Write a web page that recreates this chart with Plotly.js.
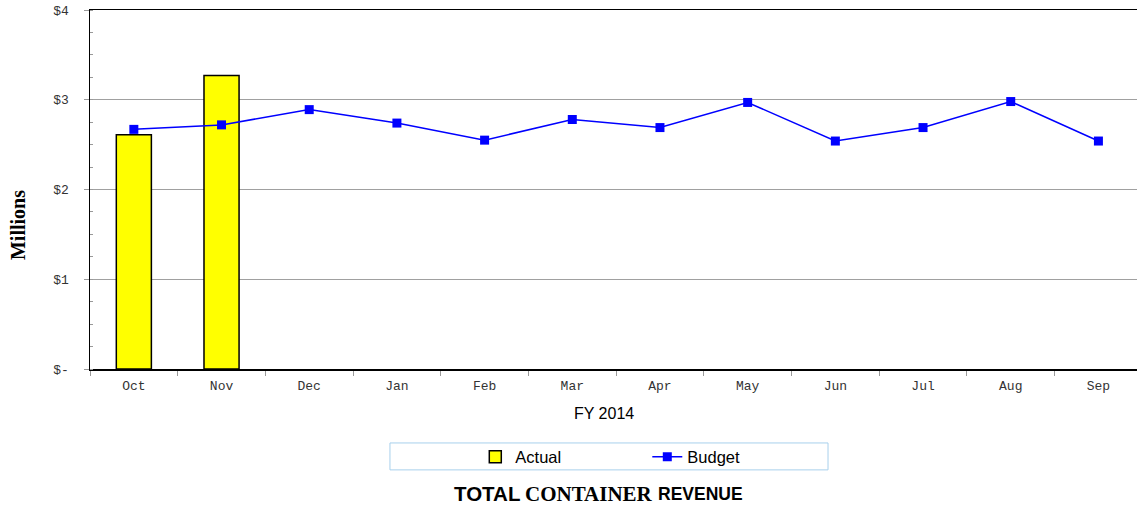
<!DOCTYPE html>
<html>
<head>
<meta charset="utf-8">
<script src="https://cdn.plot.ly/plotly-3.0.1.min.js"></script>
<style>html,body{margin:0;padding:0;background:#fff;}#chart{width:1137px;height:505px;}</style>
</head>
<body>
<div id="chart"></div>
<script>
const months = ['Oct','Nov','Dec','Jan','Feb','Mar','Apr','May','Jun','Jul','Aug','Sep'];
const actualMonths = ['Oct','Nov'];
const actual = [2.61, 3.27];
const budget = [2.67, 2.72, 2.89, 2.74, 2.55, 2.78, 2.69, 2.97, 2.54, 2.69, 2.98, 2.54];
const yTickVals = [0, 1, 2, 3, 4];
const yTickText = ['$-', '$1', '$2', '$3', '$4'];

const mono = 'Liberation Mono, Courier New, monospace';
const sans = 'Liberation Sans, Arial, sans-serif';
const serif = 'Liberation Serif, Times New Roman, serif';
const data = [
  {type:'bar', name:'Actual', x:actualMonths, y:actual, width:0.4,
   marker:{color:'#ffff00', line:{color:'#000000', width:1.5}}},
  {type:'scatter', mode:'lines+markers', name:'Budget', x:months, y:budget,
   line:{color:'#0000ff', width:1.5}, marker:{symbol:'square', size:9, color:'#0000ff'}}
];
const layout = {
  width:1137, height:505,
  margin:{l:90, r:0, t:10, b:136},
  paper_bgcolor:'#ffffff', plot_bgcolor:'#ffffff',
  showlegend:true,
  legend:{orientation:'h', x:0.368, xanchor:'left', y:-0.245, yanchor:'middle',
    font:{family:sans, size:16.5, color:'#000'},
    entrywidth:127, bgcolor:'rgba(0,0,0,0)', borderwidth:0, traceorder:'normal'},
  xaxis:{type:'category', categoryarray:months, range:[-0.5, 11.44],
    showline:true, mirror:true, linecolor:'#000', linewidth:1.5,
    ticks:'outside', tickson:'boundaries', ticklen:5, tickcolor:'#999',
    ticklabelstandoff:4,
    showgrid:false, tickfont:{family:mono, size:13, color:'#333'},
    fixedrange:true},
  yaxis:{range:[0,4], tickvals:yTickVals, ticktext:yTickText,
    showline:true, mirror:false, linecolor:'#000', linewidth:1.5,
    ticks:'outside', ticklen:5, tickcolor:'#999', ticklabelstandoff:12,
    showgrid:true, gridcolor:'#a0a0a0', gridwidth:1, zeroline:false,
    minor:{ticks:'inside', dtick:0.25, ticklen:3, tickcolor:'#999', showgrid:false},
    tickfont:{family:mono, size:13, color:'#333'},
    fixedrange:true},
  shapes:[{type:'rect', xref:'paper', yref:'paper', x0:0.2865, x1:0.7049, y0:-0.206, y1:-0.281,
    line:{color:'#a8d0ec', width:1}, fillcolor:'rgba(0,0,0,0)'}],
  annotations:[
    {xref:'paper', yref:'paper', x:-0.0688, y:0.401, textangle:-90, showarrow:false,
     xanchor:'center', yanchor:'middle', text:'<b>Millions</b>', font:{family:serif, size:20, color:'#000'}},
    {xref:'paper', yref:'paper', x:0.4905, y:-0.1226, showarrow:false,
     xanchor:'center', yanchor:'middle', text:'FY 2014', font:{family:sans, size:16, color:'#000'}},
    {xref:'paper', yref:'paper', x:(486.5-90)/1047, y:-0.348, xanchor:'center', yanchor:'middle', showarrow:false,
     text:'<b>TOTAL</b>', font:{family:sans, size:20.5, color:'#000'}},
    {xref:'paper', yref:'paper', x:(589-90)/1047, y:-0.348, xanchor:'center', yanchor:'middle', showarrow:false,
     text:'<b>CONTAINER</b>', font:{family:serif, size:21, color:'#000'}},
    {xref:'paper', yref:'paper', x:(700-90)/1047, y:-0.348, xanchor:'center', yanchor:'middle', showarrow:false,
     text:'<b>REVENUE</b>', font:{family:sans, size:17.5, color:'#000'}}
  ]
};
Plotly.newPlot('chart', data, layout, {displayModeBar:false, staticPlot:true});
</script>
</body>
</html>
